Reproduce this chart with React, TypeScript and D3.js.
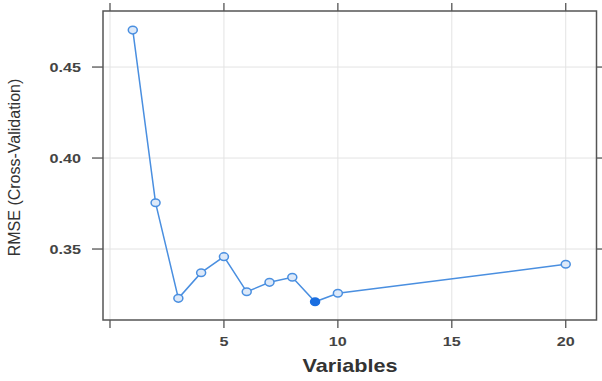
import React from 'react';
import * as d3 from 'd3';

const variables = [1, 2, 3, 4, 5, 6, 7, 8, 9, 10, 20];
const rmse = [0.4703, 0.3754, 0.3229, 0.337, 0.3458, 0.3265, 0.3317, 0.3345, 0.321, 0.3257, 0.3416];
const bestIndex = 8;
const xTicks = [0, 5, 10, 15, 20];
const xTickLabels = ['', '5', '10', '15', '20'];
const yTicks = [0.35, 0.4, 0.45];

const W = 602;
const H = 381;
const panel = { left: 103, top: 11, right: 596.5, bottom: 320 };

const x = d3.scaleLinear().domain([-0.307, 21.35]).range([panel.left, panel.right]);
const y = d3.scaleLinear().domain([0.311, 0.4808]).range([panel.bottom, panel.top]);

const line = d3.line<number>()
    .x((d, i) => x(variables[i]))
    .y(d => y(d));

const blue = '#4a8fe0';
const frame = '#555';
const font = 'Liberation Sans, Arial, sans-serif';

export default function App() {
    return (
        <svg width={W} height={H} style={{ position: 'absolute', left: 0, top: 0 }}>
            <rect width={W} height={H} fill="#fff" />
            {/* grid */}
            {xTicks.map(t => (
                <line key={'gx' + t} x1={x(t)} x2={x(t)} y1={panel.top} y2={panel.bottom} stroke="#e3e3e3" strokeWidth={1} />
            ))}
            {yTicks.map(t => (
                <line key={'gy' + t} x1={panel.left} x2={panel.right} y1={y(t)} y2={y(t)} stroke="#e3e3e3" strokeWidth={1} />
            ))}
            {/* frame */}
            <rect x={panel.left} y={panel.top} width={panel.right - panel.left} height={panel.bottom - panel.top}
                fill="none" stroke={frame} strokeWidth={1.5} />
            {/* ticks */}
            {xTicks.map((t, i) => (
                <g key={'tx' + t}>
                    <line x1={x(t)} x2={x(t)} y1={panel.bottom} y2={panel.bottom + 8} stroke={frame} strokeWidth={1.3} />
                    <line x1={x(t)} x2={x(t)} y1={panel.top} y2={panel.top - 8} stroke={frame} strokeWidth={1.3} />
                    <text transform={`translate(${x(t)}, ${panel.bottom + 26}) scale(1.35, 1)`} textAnchor="middle"
                        fontFamily={font} fontSize={12} fontWeight="bold" fill="#444">{xTickLabels[i]}</text>
                </g>
            ))}
            {yTicks.map(t => (
                <g key={'ty' + t}>
                    <line x1={panel.left} x2={panel.left - 11} y1={y(t)} y2={y(t)} stroke={frame} strokeWidth={1.3} />
                    <line x1={panel.right} x2={panel.right + 8} y1={y(t)} y2={y(t)} stroke={frame} strokeWidth={1.3} />
                    <text transform={`translate(81, ${y(t) + 4.5}) scale(1.35, 1)`} textAnchor="end"
                        fontFamily={font} fontSize={12} fontWeight="bold" fill="#444">{d3.format('.2f')(t)}</text>
                </g>
            ))}
            {/* axis titles */}
            <text transform={`translate(350, 372) scale(1.2, 1)`} textAnchor="middle" fontFamily={font}
                fontSize={18} fontWeight="bold" fill="#333">Variables</text>
            <text transform={`translate(20, ${(panel.top + panel.bottom) / 2 + 2}) rotate(-90)`} textAnchor="middle"
                fontFamily={font} fontSize={16} fill="#333">RMSE (Cross-Validation)</text>
            {/* series */}
            <path d={line(rmse) || ''} fill="none" stroke={blue} strokeWidth={1.5} />
            {rmse.map((v, i) => (
                <ellipse key={'p' + i} cx={x(variables[i])} cy={y(v)} rx={4.5} ry={3.8}
                    fill={i === bestIndex ? '#1a6ee0' : '#dde9f9'} stroke={i === bestIndex ? '#1a6ee0' : blue} strokeWidth={1.5} />
            ))}
        </svg>
    );
}
